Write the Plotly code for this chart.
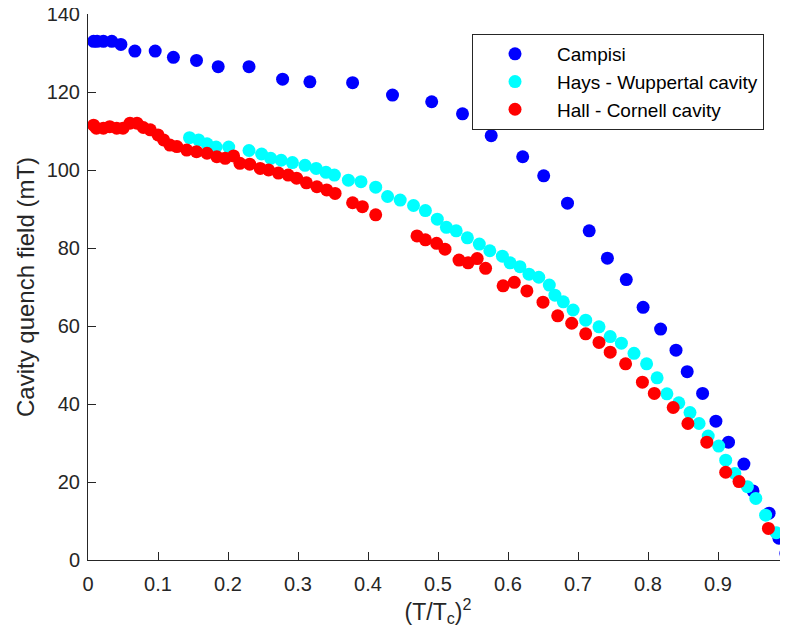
import plotly.graph_objects as go

# values
campisi_x = [0.008, 0.013, 0.022, 0.034, 0.047, 0.067, 0.096, 0.122, 0.155, 0.186, 0.230, 0.278,
             0.317, 0.378, 0.435, 0.491, 0.535, 0.576, 0.621, 0.651, 0.685, 0.716, 0.742, 0.769,
             0.793, 0.818, 0.840, 0.856, 0.878, 0.897, 0.915, 0.937, 0.950, 0.973, 0.987, 0.997]
campisi_y = [133.0, 133.0, 133.0, 133.0, 132.2, 130.5, 130.5, 128.9, 128.1, 126.5, 126.5, 123.3,
             122.6, 122.4, 119.2, 117.5, 114.4, 108.8, 103.4, 98.5, 91.5, 84.4, 77.4, 71.9,
             64.8, 59.2, 53.8, 48.3, 42.7, 35.6, 30.2, 24.6, 17.7, 12.0, 5.6, 1.7]

hays_x = [0.145, 0.158, 0.170, 0.183, 0.201, 0.230, 0.248, 0.261, 0.276, 0.292, 0.310, 0.326,
          0.340, 0.352, 0.372, 0.390, 0.411, 0.428, 0.446, 0.465, 0.482, 0.499, 0.512, 0.526,
          0.542, 0.559, 0.574, 0.592, 0.603, 0.617, 0.630, 0.644, 0.659, 0.667, 0.679, 0.693,
          0.711, 0.730, 0.746, 0.762, 0.780, 0.798, 0.813, 0.827, 0.844, 0.860, 0.873, 0.886,
          0.901, 0.911, 0.924, 0.942, 0.954, 0.968, 0.983, 0.998]
hays_y = [108.3, 107.7, 106.7, 105.9, 105.9, 105.0, 104.1, 103.0, 102.5, 101.9, 101.2, 100.4,
          99.4, 98.7, 97.4, 97.0, 95.6, 93.2, 92.3, 90.9, 89.6, 87.4, 85.3, 84.4,
          82.6, 81.0, 79.3, 77.9, 76.2, 75.2, 73.3, 72.5, 70.5, 67.9, 66.2, 64.1,
          61.5, 59.8, 57.3, 55.6, 53.0, 50.3, 46.7, 42.6, 40.3, 37.8, 35.0, 31.8,
          29.2, 25.6, 22.2, 18.8, 15.8, 11.5, 7.0, 0.8]

hall_x = [0.008, 0.012, 0.022, 0.031, 0.041, 0.050, 0.060, 0.070, 0.079, 0.089, 0.100, 0.108,
          0.117, 0.127, 0.141, 0.155, 0.170, 0.184, 0.196, 0.208, 0.217, 0.231, 0.246, 0.258,
          0.272, 0.286, 0.298, 0.312, 0.327, 0.341, 0.353, 0.378, 0.392, 0.411, 0.470, 0.482,
          0.498, 0.510, 0.530, 0.543, 0.556, 0.568, 0.593, 0.609, 0.627, 0.650, 0.671, 0.691,
          0.711, 0.730, 0.746, 0.768, 0.792, 0.809, 0.836, 0.857, 0.884, 0.911, 0.930, 0.972]
hall_y = [111.5, 110.7, 110.7, 111.1, 110.7, 110.7, 112.0, 112.0, 110.9, 110.3, 109.0, 107.7,
          106.4, 106.0, 105.1, 104.7, 104.3, 103.4, 103.0, 103.6, 101.7, 101.5, 100.4, 100.0,
          99.2, 98.7, 97.9, 96.7, 95.7, 94.9, 94.0, 91.6, 90.6, 88.5, 83.1, 82.1,
          81.2, 79.7, 76.9, 76.2, 77.3, 74.8, 70.3, 71.2, 69.0, 66.1, 62.6, 60.7,
          58.0, 55.8, 53.3, 50.3, 45.6, 42.7, 39.1, 35.0, 30.2, 22.5, 20.1, 8.1]

x_ticks = [0, 0.1, 0.2, 0.3, 0.4, 0.5, 0.6, 0.7, 0.8, 0.9, 1]
y_ticks = [0, 20, 40, 60, 80, 100, 120, 140]

ink = "#262626"
font = "Liberation Sans, Arial, sans-serif"

fig = go.Figure()
for name, xs, ys, col in [("Campisi", campisi_x, campisi_y, "#0000ff"),
                          ("Hays - Wuppertal cavity", hays_x, hays_y, "#00ffff"),
                          ("Hall - Cornell cavity", hall_x, hall_y, "#ff0000")]:
    fig.add_trace(go.Scatter(x=xs, y=ys, mode="markers", name=name, cliponaxis=False,
                             marker=dict(color=col, size=13, line=dict(width=0))))

# the page body has an 8px margin, so the figure is a bit smaller than the window
fig.update_layout(
    template="none",
    width=780, height=630,
    margin=dict(l=80, r=0, t=6, b=78),
    paper_bgcolor="white", plot_bgcolor="white",
    font=dict(family=font, color=ink, size=20),
    legend=dict(x=0.5486, y=0.9634, xanchor="left", yanchor="top",
                bgcolor="white", bordercolor=ink, borderwidth=1,
                font=dict(size=19, color="#000000"), itemwidth=74),
)
fig.update_xaxes(range=[0, 1], tickvals=x_ticks, ticktext=[str(t) for t in x_ticks],
                 showline=True, linecolor=ink, linewidth=1, mirror=False,
                 ticks="inside", ticklen=8, tickcolor=ink, showgrid=False, zeroline=False,
                 automargin=False, ticklabelstandoff=6, ticklabeloverflow="allow",
                 title=dict(text="(T/T<sub>c</sub>)<sup>2</sup>", font=dict(size=23), standoff=1))
fig.update_yaxes(range=[0, 140], tickvals=y_ticks,
                 showline=True, linecolor=ink, linewidth=1, mirror=False,
                 ticks="inside", ticklen=8, tickcolor=ink, showgrid=False, zeroline=False,
                 automargin=False, ticklabelstandoff=3, ticklabeloverflow="allow",
                 title=dict(text="Cavity quench field (mT)", font=dict(size=24), standoff=5))

fig.write_html("out.html")
